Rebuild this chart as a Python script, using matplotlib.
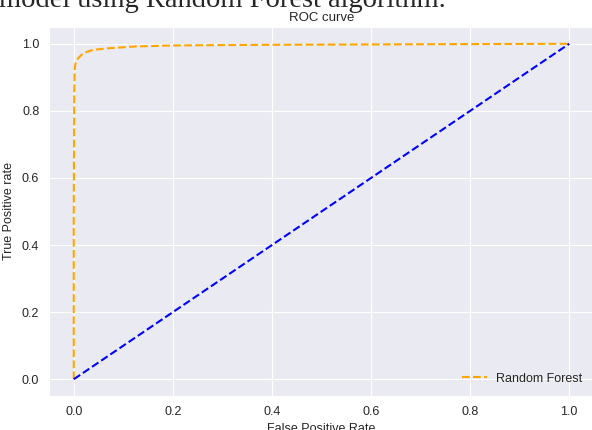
import matplotlib
matplotlib.use('Agg')
import matplotlib.pyplot as plt
import seaborn as sns

# ROC points
fpr_rf = [0.0, 0.0, 0.001, 0.002, 0.004, 0.009, 0.019, 0.039, 0.073, 0.126, 0.2, 0.3, 0.4, 0.6, 0.8, 1.0]
tpr_rf = [0.0, 0.5, 0.85, 0.928, 0.945, 0.957, 0.972, 0.982, 0.987, 0.992, 0.995, 0.996, 0.997, 0.998, 0.999, 1.0]
chance = [0.0, 1.0]

sns.set_style('darkgrid')
plt.rcParams['font.family'] = ['Liberation Sans', 'DejaVu Sans']

fig = plt.figure(figsize=(5.92, 4.30), dpi=100)
ax = fig.add_axes([49 / 592, 34 / 430, 545 / 592, 369 / 430])

ax.plot(fpr_rf, tpr_rf, linestyle='--', color='orange', lw=1.5, label='Random Forest')
ax.plot(chance, chance, linestyle='--', color='blue', lw=1.5)
ax.set_xlim(-0.05, 1.05)
ax.set_ylim(-0.05, 1.05)
ax.set_title('ROC curve', fontsize=9.5, pad=4, color='#262626')
ax.set_xlabel('False Positive Rate', fontsize=9, color='#262626')
ax.set_ylabel('True Positive rate', fontsize=9, color='#262626', labelpad=5)
ax.tick_params(labelsize=9, colors='#262626')
ax.legend(loc='lower right', fontsize=9, frameon=False)

# caption text cut off at the top of the screenshot
fig.text(-1 / 592, 1 - 7 / 430, 'model using Random Forest algorithm.', family='Liberation Serif',
         fontsize=20.5, va='baseline', ha='left')

fig.savefig('out.png', dpi=100)
